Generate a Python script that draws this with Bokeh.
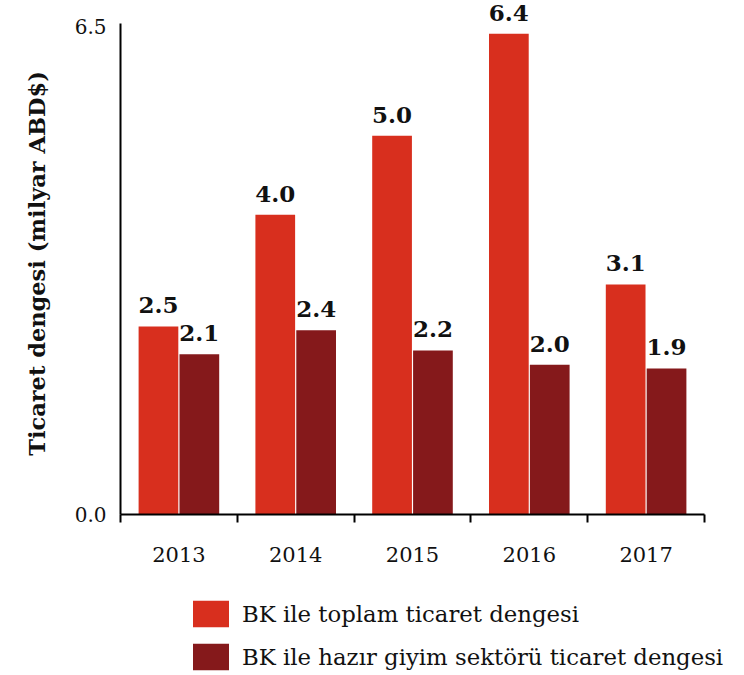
import math
from bokeh.plotting import figure
from bokeh.models import (Range1d, FixedTicker, NumeralTickFormatter, Legend, LegendItem,
                          ColumnDataSource, Label)
from bokeh.embed import file_html
from bokeh.resources import INLINE
from bokeh.core.properties import value

years = ["2013", "2014", "2015", "2016", "2017"]
total_balance = [2.50, 3.99, 5.04, 6.40, 3.06]
apparel_balance = [2.13, 2.45, 2.18, 1.99, 1.94]
total_labels = ["2.5", "4.0", "5.0", "6.4", "3.1"]
apparel_labels = ["2.1", "2.4", "2.2", "2.0", "1.9"]
series_names = ["BK ile toplam ticaret dengesi", "BK ile hazır giyim sektörü ticaret dengesi"]
y_title = "Ticaret dengesi (milyar ABD$)"
y_ticks = [0, 6.5]
y_axis_top = 6.54

RED = "#D82F1E"
DARK = "#85191B"
FONT = "DejaVu Serif"

W, H = 744, 675
AX_L, AX_R = 120, 704      # pixel extent of the x axis
Y0_PX, PX_PER_UNIT = 513.5, 75.03
LABEL_GAP_PX = 21

n = len(years)
xpx = (AX_R - AX_L) / n
x_range = Range1d(-AX_L / xpx, n + (W - AX_R) / xpx)
y_range = Range1d(-(H - Y0_PX) / PX_PER_UNIT, Y0_PX / PX_PER_UNIT)

idx = list(range(n))
off = 0.175
bw = 0.34
gap = LABEL_GAP_PX / PX_PER_UNIT

src_total = ColumnDataSource(dict(x=[i + 0.5 - off for i in idx], top=total_balance,
                                  ly=[v + gap for v in total_balance], lab=total_labels))
src_app = ColumnDataSource(dict(x=[i + 0.5 + off for i in idx], top=apparel_balance,
                                ly=[v + gap for v in apparel_balance], lab=apparel_labels))

p = figure(width=W, height=H, output_backend="svg", toolbar_location=None,
           x_range=x_range, y_range=y_range,
           min_border_left=0, min_border_right=0, min_border_top=0, min_border_bottom=0)
p.outline_line_color = None
p.xgrid.visible = False
p.ygrid.visible = False

r1 = p.vbar(x="x", top="top", width=bw, source=src_total, fill_color=RED, line_color=None)
r2 = p.vbar(x="x", top="top", width=bw, source=src_app, fill_color=DARK, line_color=None)

for src in (src_total, src_app):
    p.text(x="x", y="ly", text="lab", source=src, text_align="center",
           text_baseline="alphabetic",
           text_font=value(FONT), text_font_style="bold", text_font_size="23px",
           text_color="#111111")

# x axis
xa = p.xaxis[0]
xa.fixed_location = 0
xa.bounds = (0, n)
xa.ticker = FixedTicker(ticks=[i + 0.5 for i in idx], minor_ticks=list(range(n + 1)))
xa.major_label_overrides = {i + 0.5: y for i, y in zip(idx, years)}
xa.major_tick_out = 0
xa.major_tick_in = 0
xa.minor_tick_out = 8
xa.minor_tick_in = 0
xa.minor_tick_line_color = "black"
xa.minor_tick_line_width = 2
xa.axis_line_color = "black"
xa.axis_line_width = 2
xa.major_label_standoff = 25
xa.major_label_text_font = FONT
xa.major_label_text_font_size = "21px"
xa.major_label_text_color = "#111111"

# y axis
ya = p.yaxis[0]
ya.fixed_location = 0
ya.bounds = (0, y_axis_top)
ya.ticker = FixedTicker(ticks=y_ticks, minor_ticks=[])
ya.formatter = NumeralTickFormatter(format="0.0")
ya.major_tick_out = 0
ya.major_tick_in = 0
ya.minor_tick_out = 0
ya.minor_tick_in = 0
ya.axis_line_color = "black"
ya.axis_line_width = 2
ya.major_label_standoff = 14
ya.major_label_text_font = FONT
ya.major_label_text_font_size = "20px"
ya.major_label_text_color = "#111111"

title = Label(x=36, y=H - 263, x_units="screen", y_units="screen", text=y_title,
              angle=math.pi / 2, text_align="center", text_baseline="middle",
              text_font=FONT, text_font_style="bold", text_font_size="22.5px",
              text_color="#111111")
p.add_layout(title)

legend = Legend(items=[LegendItem(label=series_names[0], renderers=[r1]),
                       LegendItem(label=series_names[1], renderers=[r2])],
                location=(188, 2), margin=0, padding=0, spacing=10,
                glyph_width=45, glyph_height=33, label_standoff=9,
                label_text_font=FONT, label_text_font_size="22.8px", label_text_color="#111111",
                border_line_alpha=0, background_fill_alpha=0)
p.add_layout(legend, "center")

open("out.html", "w").write(file_html(p, INLINE))
